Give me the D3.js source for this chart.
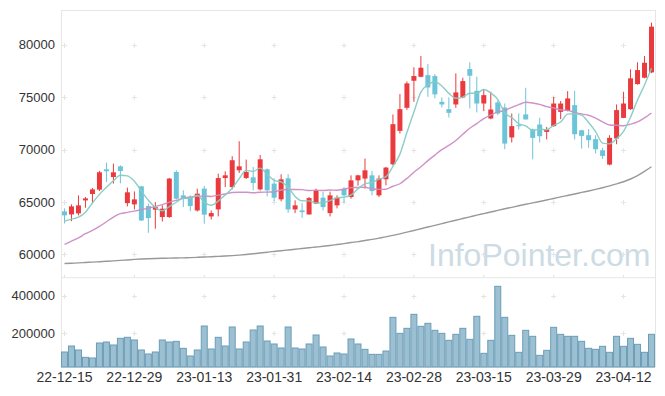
<!DOCTYPE html>
<html><head><meta charset="utf-8">
<script src="https://cdn.jsdelivr.net/npm/d3@7"></script>
<style>body{margin:0;background:#fff}svg{display:block}</style>
</head><body><svg id="c" width="665" height="396"></svg>
<script>
const dates = ["22-12-15","22-12-16","22-12-19","22-12-20","22-12-21","22-12-22","22-12-23","22-12-26","22-12-27","22-12-28","22-12-29",
"23-01-02","23-01-03","23-01-04","23-01-05","23-01-06","23-01-09","23-01-10","23-01-11","23-01-12","23-01-13",
"23-01-16","23-01-17","23-01-18","23-01-19","23-01-20","23-01-25","23-01-26","23-01-27","23-01-30","23-01-31",
"23-02-01","23-02-02","23-02-03","23-02-06","23-02-07","23-02-08","23-02-09","23-02-10","23-02-13","23-02-14",
"23-02-15","23-02-16","23-02-17","23-02-20","23-02-21","23-02-22","23-02-23","23-02-24","23-02-27","23-02-28",
"23-03-02","23-03-03","23-03-06","23-03-07","23-03-08","23-03-09","23-03-10","23-03-13","23-03-14","23-03-15",
"23-03-16","23-03-17","23-03-20","23-03-21","23-03-22","23-03-23","23-03-24","23-03-27","23-03-28","23-03-29",
"23-03-30","23-03-31","23-04-03","23-04-04","23-04-05","23-04-06","23-04-07","23-04-10","23-04-11","23-04-12",
"23-04-13","23-04-14","23-04-17","23-04-18"];

const open = [64110,63820,63920,65160,65765,66185,68125,67390,68410,64900,
64780,66500,64620,64270,63570,63570,67870,65640,65420,64200,
66280,63630,64300,67290,66430,68030,67300,67360,66210,68125,
66760,65260,67265,64300,64206,63820,64850,65420,63950,64685,
66280,65480,67070,67240,67550,65640,67170,68600,71790,73990,
76570,76950,77110,77020,74560,73860,74310,74980,77690,75610,
74400,72970,74500,74020,71160,72330,73360,71950,72400,71690,
72240,73600,73700,74245,71850,71380,71000,69940,68575,71060,
73030,73860,76250,76860,77370];

const high = [64400,64780,65640,65480,66340,67970,68770,68670,68500,66380,
66020,66550,64850,65000,64690,67300,68030,66120,65640,66280,
66530,64200,67710,67935,69370,70800,69050,68350,69490,68200,
67270,67650,67650,65160,64900,65480,66280,65960,66000,65640,
66430,67550,67600,69150,67960,67550,68350,73355,75300,76500,
77850,78930,78160,77210,74980,74980,77275,76860,78330,76950,
75770,75520,74660,74400,73450,73450,75900,72000,73030,72170,
75040,74640,75580,75610,71900,71950,71380,70170,71380,74310,
75520,77660,78330,78930,82110];

const low = [62960,63180,63730,64460,64875,66050,66910,66760,66790,64590,
64300,63200,62070,62460,63150,63500,65250,64520,64140,64100,
62940,63340,63630,66430,66210,67770,67200,66120,66100,65540,
65070,65070,63970,63950,63500,63800,64800,64200,63630,64400,
64940,65320,66570,66280,65640,65480,66590,68500,71540,73800,
74560,76900,75040,74885,74020,73070,73990,74900,73930,73550,
73670,72900,73300,70040,70680,71920,72880,69080,70680,70970,
72200,72910,73650,70970,70100,70180,69630,69110,68500,70520,
73000,73800,76200,76800,77300];

const close = [63730,64589,64685,65350,66210,67840,67935,67840,67960,65930,
65260,63250,63470,64520,64370,67240,65320,65320,64620,65800,
63800,63950,67290,67550,68990,68410,67870,66820,69080,66120,
65420,67170,64300,64685,64040,65380,66120,64520,65640,65420,
65640,67070,67550,68030,66050,67240,68290,72430,73860,76320,
77020,77810,75930,75270,74310,73510,75460,76540,77050,74400,
75200,73830,73450,70580,72240,72240,72880,71120,71280,71950,
74400,74400,74885,71470,71310,70900,70040,69400,71120,73770,
74400,76800,77590,78290,81730];

const volume = [100500,132400,111200,72200,68600,148400,153700,137800,173200,178600,
164400,111200,89900,100500,164400,153700,157300,120000,79300,111200,
238800,116500,178600,132400,233500,116500,153700,217600,238800,159000,
143100,121800,233500,121800,116500,143100,191000,127100,79300,95200,
89900,169700,143100,114700,88100,88100,105800,284900,199800,226400,
300900,237100,253000,215800,199800,162600,194500,226400,167900,290300,
93500,162600,449800,284900,189200,98800,215800,183900,82800,109400,
231800,194500,183900,183900,157300,120000,114700,130700,98800,183900,
130700,173200,141300,98800,194500];

const ma5Head = [63180,63370,63560,64040];
const ma20Head = [60956,61270,61590,61980,62290,62680,63120,63570,63890,64020,
64140,64270,64430,64590,64750,65000,65160,65380,65480];
const maLong = [59140,59170,59200,59240,59270,59310,59350,59390,59440,59480,
59530,59570,59600,59620,59640,59650,59670,59680,59700,59730,
59760,59790,59820,59850,59890,59940,60000,60070,60140,60220,
60300,60360,60430,60500,60570,60640,60710,60780,60860,60950,
61040,61140,61230,61340,61440,61560,61680,61820,61970,62130,
62290,62460,62620,62780,62940,63110,63270,63430,63590,63750,
63900,64050,64210,64360,64500,64650,64790,64920,65060,65200,
65340,65490,65630,65770,65920,66060,66210,66370,66540,66730,
66940,67200,67530,67930,68370];

const priceTicks = [60000,65000,70000,75000,80000];
const volumeTicks = [200000,400000];
const dateTickIndex = [0,10,20,30,40,50,60,70,80];

function movingAvg(n, head){
  return close.map((c,i)=>{
    if (i < n-1) return head[i];
    return d3.mean(close.slice(i-n+1, i+1));
  });
}
const ma5 = movingAvg(5, ma5Head);
const ma20 = movingAvg(20, ma20Head);

const L = 61, R = 655, T = 10, MID = 277.7, B = 367;
const svg = d3.select("#c");
const x = d3.scaleBand().domain(dates).range([L, R]);
const bw = x.bandwidth();
const cx = d => x(d) + bw/2;
const y = d3.scaleLinear().domain([57787, 83319]).range([MID, T]);
const yv = d3.scaleLinear().domain([20700, 495700]).range([B, MID]);

const gridCol = "#e4e4e4";
// frame
const frame = svg.append("g").attr("stroke", "#e6e6e6").attr("stroke-width", 1).attr("fill","none");
frame.append("line").attr("x1", L+0.5).attr("x2", L+0.5).attr("y1", T).attr("y2", B);
frame.append("line").attr("x1", R+0.5).attr("x2", R+0.5).attr("y1", T).attr("y2", B);
frame.append("line").attr("x1", L).attr("x2", R).attr("y1", T+0.5).attr("y2", T+0.5);
frame.append("line").attr("x1", L).attr("x2", R).attr("y1", MID).attr("y2", MID);
frame.append("line").attr("x1", L).attr("x2", R).attr("y1", B+0.5).attr("y2", B+0.5);

// grid crosses
const crosses = svg.append("g").attr("stroke", gridCol).attr("stroke-width", 1);
const xTickDates = dateTickIndex.map(i => dates[i]);
xTickDates.forEach(d => {
  priceTicks.forEach(v => {
    crosses.append("path").attr("d", `M${cx(d)-2.5},${Math.round(y(v))+0.5}h5M${cx(d)},${Math.round(y(v))-2}v5`);
  });
  volumeTicks.forEach(v => {
    crosses.append("path").attr("d", `M${cx(d)-2.5},${Math.round(yv(v))+0.5}h5M${cx(d)},${Math.round(yv(v))-2}v5`);
  });
  crosses.append("path").attr("d", `M${cx(d)},${MID-3}v3`);
});

// watermark
svg.append("text").attr("x", 428).attr("y", 266)
  .attr("font-family", "'Liberation Sans', Arial, sans-serif").attr("font-size", 32)
  .attr("fill", "#cddbe4").text("InfoPointer.com");

// volume bars
svg.append("g").selectAll("rect").data(volume).join("rect")
  .attr("x", (v,i) => x(dates[i]) + 0.5)
  .attr("y", v => yv(v))
  .attr("width", bw - 1)
  .attr("height", v => B - yv(v))
  .attr("fill", "#9cc0d1")
  .attr("stroke", "#6a9db8")
  .attr("stroke-width", 1);

// candles
const red = "#eb3a3e", teal = "#6cc4d8";
const cg = svg.append("g");
dates.forEach((d,i) => {
  const up = close[i] >= open[i];
  const col = up ? red : teal;
  cg.append("line").attr("x1", cx(d)).attr("x2", cx(d))
    .attr("y1", y(high[i])).attr("y2", y(low[i]))
    .attr("stroke", col).attr("stroke-width", 1);
  const top = y(Math.max(open[i], close[i])), bot = y(Math.min(open[i], close[i]));
  cg.append("rect").attr("x", x(d) + 1).attr("width", bw - 2)
    .attr("y", top).attr("height", Math.max(1, bot - top)).attr("fill", col);
});

// moving averages
const line = d3.line().x((v,i) => cx(dates[i])).y(v => y(v)).curve(d3.curveMonotoneX);
svg.append("path").attr("d", line(maLong)).attr("fill","none").attr("stroke","#999999").attr("stroke-width",1.4);
svg.append("path").attr("d", line(ma20)).attr("fill","none").attr("stroke","#cc8cc4").attr("stroke-width",1.4).attr("opacity",0.95);
svg.append("path").attr("d", line(ma5)).attr("fill","none").attr("stroke","#86cbc3").attr("stroke-width",1.4).attr("opacity",0.95);

// axes
const font = "'Liberation Sans', Arial, sans-serif";
const ay = svg.append("g").attr("transform", `translate(${L},0)`)
  .call(d3.axisLeft(y).tickValues(priceTicks).tickSize(0).tickPadding(6).tickFormat(d3.format("d")));
const ayv = svg.append("g").attr("transform", `translate(${L},0)`)
  .call(d3.axisLeft(yv).tickValues(volumeTicks).tickSize(0).tickPadding(6).tickFormat(d3.format("d")));
const ax = svg.append("g").attr("transform", `translate(0,${B})`)
  .call(d3.axisBottom(x).tickValues(xTickDates).tickSize(0).tickPadding(5.5));
[ay, ayv].forEach(g => g.selectAll("text").attr("font-size", 13));
ax.selectAll("text").attr("font-size", 14);
[ay, ayv, ax].forEach(g => {
  g.select(".domain").remove();
  g.selectAll("text").attr("font-family", font).attr("fill", "#333");
});
</script>
</body></html>
